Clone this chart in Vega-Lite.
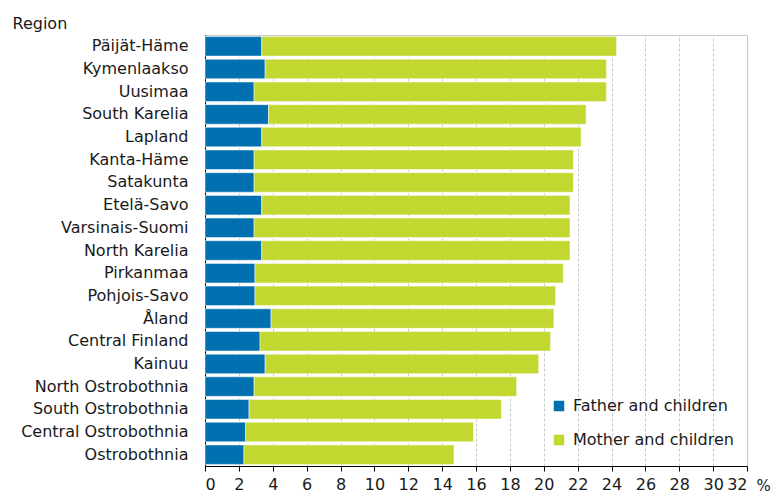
{
  "$schema": "https://vega.github.io/schema/vega-lite/v6.json",
  "autosize": {"type": "none"},
  "width": 542,
  "height": 431,
  "padding": {"left": 205, "top": 35, "right": 32, "bottom": 30},
  "config": {
    "font": "DejaVu Sans",
    "view": {"stroke": "#c8c8c8", "strokeWidth": 1}
  },
  "datasets": {
    "d": [
      {"region": "Päijät-Häme", "type": "Father and children", "k": 1, "value": 3.35},
      {"region": "Päijät-Häme", "type": "Mother and children", "k": 2, "value": 20.95},
      {"region": "Kymenlaakso", "type": "Father and children", "k": 1, "value": 3.55},
      {"region": "Kymenlaakso", "type": "Mother and children", "k": 2, "value": 20.15},
      {"region": "Uusimaa", "type": "Father and children", "k": 1, "value": 2.9},
      {"region": "Uusimaa", "type": "Mother and children", "k": 2, "value": 20.8},
      {"region": "South Karelia", "type": "Father and children", "k": 1, "value": 3.75},
      {"region": "South Karelia", "type": "Mother and children", "k": 2, "value": 18.75},
      {"region": "Lapland", "type": "Father and children", "k": 1, "value": 3.35},
      {"region": "Lapland", "type": "Mother and children", "k": 2, "value": 18.85},
      {"region": "Kanta-Häme", "type": "Father and children", "k": 1, "value": 2.9},
      {"region": "Kanta-Häme", "type": "Mother and children", "k": 2, "value": 18.85},
      {"region": "Satakunta", "type": "Father and children", "k": 1, "value": 2.9},
      {"region": "Satakunta", "type": "Mother and children", "k": 2, "value": 18.85},
      {"region": "Etelä-Savo", "type": "Father and children", "k": 1, "value": 3.35},
      {"region": "Etelä-Savo", "type": "Mother and children", "k": 2, "value": 18.2},
      {"region": "Varsinais-Suomi", "type": "Father and children", "k": 1, "value": 2.9},
      {"region": "Varsinais-Suomi", "type": "Mother and children", "k": 2, "value": 18.65},
      {"region": "North Karelia", "type": "Father and children", "k": 1, "value": 3.35},
      {"region": "North Karelia", "type": "Mother and children", "k": 2, "value": 18.2},
      {"region": "Pirkanmaa", "type": "Father and children", "k": 1, "value": 2.95},
      {"region": "Pirkanmaa", "type": "Mother and children", "k": 2, "value": 18.2},
      {"region": "Pohjois-Savo", "type": "Father and children", "k": 1, "value": 2.95},
      {"region": "Pohjois-Savo", "type": "Mother and children", "k": 2, "value": 17.75},
      {"region": "Åland", "type": "Father and children", "k": 1, "value": 3.9},
      {"region": "Åland", "type": "Mother and children", "k": 2, "value": 16.7},
      {"region": "Central Finland", "type": "Father and children", "k": 1, "value": 3.25},
      {"region": "Central Finland", "type": "Mother and children", "k": 2, "value": 17.15},
      {"region": "Kainuu", "type": "Father and children", "k": 1, "value": 3.55},
      {"region": "Kainuu", "type": "Mother and children", "k": 2, "value": 16.15},
      {"region": "North Ostrobothnia", "type": "Father and children", "k": 1, "value": 2.9},
      {"region": "North Ostrobothnia", "type": "Mother and children", "k": 2, "value": 15.5},
      {"region": "South Ostrobothnia", "type": "Father and children", "k": 1, "value": 2.6},
      {"region": "South Ostrobothnia", "type": "Mother and children", "k": 2, "value": 14.9},
      {"region": "Central Ostrobothnia", "type": "Father and children", "k": 1, "value": 2.4},
      {"region": "Central Ostrobothnia", "type": "Mother and children", "k": 2, "value": 13.45},
      {"region": "Ostrobothnia", "type": "Father and children", "k": 1, "value": 2.3},
      {"region": "Ostrobothnia", "type": "Mother and children", "k": 2, "value": 12.4}
    ]
  },
  "data": {"name": "d"},
  "mark": {"type": "bar", "stroke": "white", "strokeWidth": 0.5},
  "encoding": {
    "y": {
      "field": "region",
      "type": "nominal",
      "sort": null,
      "scale": {"paddingInner": 0.14, "paddingOuter": 0.07},
      "axis": {
        "title": "Region",
        "titleAngle": 0,
        "titleAlign": "left",
        "titleBaseline": "alphabetic",
        "titleX": -193,
        "titleY": -7,
        "titleFontSize": 16,
        "titleFontWeight": "normal",
        "titleColor": "#1a1a1a",
        "labelFontSize": 16,
        "labelColor": "#1a1a1a",
        "labelPadding": 17,
        "labelLimit": 300,
        "ticks": false,
        "domainColor": "#000000",
        "domainWidth": 1
      }
    },
    "x": {
      "field": "value",
      "type": "quantitative",
      "stack": "zero",
      "scale": {"domain": [0, 32], "nice": false},
      "axis": {
        "values": [0, 2, 4, 6, 8, 10, 12, 14, 16, 18, 20, 22, 24, 26, 28, 30, 32],
        "title": "%",
        "titleX": 558,
        "titleY": 24,
        "titleAlign": "center",
        "titleBaseline": "alphabetic",
        "titleFontSize": 15,
        "titleFontWeight": "normal",
        "titleColor": "#1a1a1a",
        "labelFontSize": 16,
        "labelColor": "#1a1a1a",
        "labelPadding": 5,
        "tickColor": "#000000",
        "tickSize": 5,
        "domainColor": "#000000",
        "grid": true,
        "gridColor": "#c8c8c8",
        "gridDash": [3, 2],
        "gridWidth": 1
      }
    },
    "color": {
      "field": "type",
      "type": "nominal",
      "scale": {
        "domain": ["Father and children", "Mother and children"],
        "range": ["#0070b0", "#c2d730"]
      },
      "legend": {
        "title": null,
        "orient": "none",
        "legendX": 346,
        "legendY": 363,
        "symbolType": "square",
        "symbolSize": 110,
        "symbolStrokeWidth": 0,
        "labelFontSize": 16,
        "labelColor": "#1a1a1a",
        "labelLimit": 300,
        "rowPadding": 18,
        "labelOffset": 6
      }
    },
    "order": {"field": "k", "type": "quantitative"}
  }
}
